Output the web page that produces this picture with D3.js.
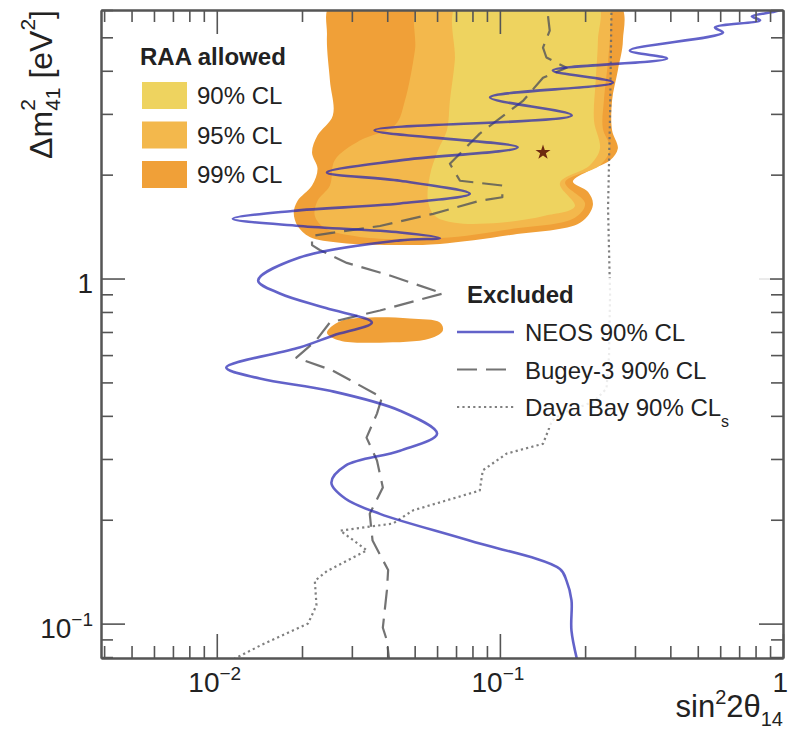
<!DOCTYPE html>
<html>
<head>
<meta charset="utf-8">
<script src="https://cdn.jsdelivr.net/npm/d3@7"></script>
<style>
  html, body { margin: 0; padding: 0; background: #fff; }
  svg { display: block; }
  text { font-family: "Liberation Sans", Arial, Helvetica, sans-serif; fill: #222; }
</style>
</head>
<body>
<svg id="chart" width="789" height="729"></svg>
<script>
// ---- data (sin^2 2theta_14, Delta m^2_41 [eV^2]) ----

// RAA allowed contours
const raa99 = [[0.0255,6.3],[0.0245,5.06],[0.0251,3.75],[0.0257,2.97],[0.0227,2.60],[0.0217,2.32],[0.0227,2.08],[0.0217,1.86],[0.0193,1.68],[0.0187,1.55],[0.0193,1.42],[0.0213,1.32],[0.0272,1.27],[0.0443,1.25],[0.0614,1.26],[0.111,1.34],[0.192,1.45],[0.213,1.63],[0.205,1.78],[0.181,1.91],[0.208,2.06],[0.245,2.20],[0.261,2.38],[0.249,2.69],[0.249,3.28],[0.261,4.01],[0.272,4.90],[0.262,6.3]];
const raa99Island = [[0.0245,0.697],[0.0272,0.751],[0.0347,0.771],[0.0481,0.766],[0.0614,0.746],[0.0629,0.707],[0.0566,0.670],[0.0377,0.652],[0.0272,0.661]];
const raa95 = [[0.0522,6.3],[0.0501,4.58],[0.0462,3.28],[0.0426,2.78],[0.0320,2.51],[0.0261,2.20],[0.0251,1.86],[0.0227,1.68],[0.0222,1.52],[0.0241,1.40],[0.0320,1.32],[0.0614,1.31],[0.1085,1.39],[0.184,1.50],[0.200,1.65],[0.170,1.90],[0.226,2.13],[0.245,2.38],[0.231,2.72],[0.233,3.28],[0.241,4.28],[0.245,5.23],[0.239,6.3]];
const raa90 = [[0.0711,6.3],[0.0693,4.28],[0.0666,3.28],[0.0650,2.69],[0.0604,2.35],[0.0566,1.99],[0.0557,1.68],[0.0589,1.52],[0.0693,1.45],[0.100,1.45],[0.1442,1.52],[0.184,1.62],[0.163,1.89],[0.208,2.13],[0.2256,2.38],[0.215,2.87],[0.218,3.75],[0.222,4.90],[0.220,6.3]];
const bestFit = [0.142, 2.32];

// Exclusion curves
const neos = [[0.19,0.075],[0.179,0.0954],[0.179,0.117],[0.172,0.133],[0.163,0.144],[0.078,0.174],[0.0377,0.208],[0.0285,0.230],[0.0254,0.256],[0.0285,0.287],[0.0444,0.317],[0.060,0.355],[0.0444,0.414],[0.0251,0.473],[0.0142,0.513],[0.0108,0.552],[0.0196,0.631],[0.0258,0.684],[0.0353,0.746],[0.0243,0.821],[0.0167,0.905],[0.0140,0.987],[0.0196,1.15],[0.0444,1.29],[0.0614,1.31],[0.0444,1.36],[0.0196,1.42],[0.0114,1.49],[0.0185,1.57],[0.0444,1.65],[0.0783,1.76],[0.0444,1.92],[0.0245,2.03],[0.0444,2.20],[0.1156,2.40],[0.0361,2.69],[0.1794,2.97],[0.0923,3.35],[0.2508,3.70],[0.1539,4.01],[0.3894,4.34],[0.2877,4.58],[0.614,5.16],[0.575,5.34],[0.830,5.60],[0.776,5.75],[0.938,5.94],[1.03,6.1]];
const bugey3 = [[0.0409,0.075],[0.0399,0.0893],[0.0386,0.0973],[0.0399,0.125],[0.0403,0.143],[0.0355,0.174],[0.0347,0.208],[0.0386,0.248],[0.0368,0.297],[0.0338,0.346],[0.0368,0.406],[0.0383,0.452],[0.0257,0.541],[0.0191,0.590],[0.0224,0.661],[0.0251,0.746],[0.0377,0.808],[0.0629,0.905],[0.0409,1.02],[0.0288,1.11],[0.0231,1.21],[0.0217,1.25],[0.0217,1.33],[0.0377,1.42],[0.0581,1.54],[0.0849,1.68],[0.102,1.72],[0.102,1.86],[0.0723,1.92],[0.0666,2.15],[0.0849,2.63],[0.121,3.28],[0.142,3.82],[0.172,4.08],[0.146,4.37],[0.142,4.67],[0.150,5.23],[0.146,6.3]];
const dayaBay = [[0.0102,0.075],[0.0142,0.0863],[0.0210,0.100],[0.0225,0.113],[0.0222,0.133],[0.0245,0.142],[0.0339,0.163],[0.0273,0.186],[0.0419,0.195],[0.0494,0.213],[0.0849,0.243],[0.0870,0.278],[0.1057,0.311],[0.142,0.332],[0.153,0.388],[0.165,0.406],[0.215,0.44],[0.238,0.48],[0.243,0.60],[0.245,0.9],[0.241,1.6],[0.245,3.0],[0.248,6.3]];

// Axis labels
const xTickLabels = [[0.01,"10","\u22122"],[0.1,"10","\u22121"],[1,"1",""]];
const yTickLabels = [[0.1,"10","\u22121"],[1,"1",""]];
const allowedLegend = [["90% CL","cl90"],["95% CL","cl95"],["99% CL","cl99"]];
const excludedLegend = [["NEOS 90% CL","neos"],["Bugey-3 90% CL","bugey"],["Daya Bay 90% CL","daya"]];

// ---- styles ----
const colors = { cl90: "#eed35f", cl95: "#f3b84c", cl99: "#f0a038", star: "#6e2a10", axis: "#555" };
const lineStyle = {
  neos:  { stroke: "#2626b4", width: 2.6, dash: null, opacity: 0.72 },
  bugey: { stroke: "#5a5a5a", width: 2.2, dash: "20,9", opacity: 0.85 },
  daya:  { stroke: "#6a6a6a", width: 2.2, dash: "2.2,3.2", opacity: 0.85 }
};

const svg = d3.select("#chart");
const frame = { left: 101, right: 783, top: 10, bottom: 658 };
const x = d3.scaleLog().domain([0.0039, 1]).range([frame.left, frame.right]);
const y = d3.scaleLog().domain([0.0795, 6]).range([frame.bottom, frame.top]);

svg.append("defs").append("clipPath").attr("id", "frameClip")
  .append("rect").attr("x", frame.left).attr("y", frame.top)
  .attr("width", frame.right - frame.left).attr("height", frame.bottom - frame.top);

const plot = svg.append("g").attr("clip-path", "url(#frameClip)");

const closed = d3.line().x(d => x(d[0])).y(d => y(d[1])).curve(d3.curveCatmullRomClosed.alpha(0.5));
const smooth = d3.line().x(d => x(d[0])).y(d => y(d[1])).curve(d3.curveCatmullRom.alpha(0.5));
const straight = d3.line().x(d => x(d[0])).y(d => y(d[1]));

// allowed regions, outermost first
plot.append("path").datum(raa99).attr("d", closed).attr("fill", colors.cl99);
plot.append("path").datum(raa99Island).attr("d", closed).attr("fill", colors.cl99);
plot.append("path").datum(raa95).attr("d", closed).attr("fill", colors.cl95);
plot.append("path").datum(raa90).attr("d", closed).attr("fill", colors.cl90);

// best fit point
plot.append("path")
  .attr("transform", `translate(${x(bestFit[0])},${y(bestFit[1])})`)
  .attr("d", d3.symbol(d3.symbolStar, 70)())
  .attr("fill", colors.star);

function styleLine(sel, s) {
  sel.attr("fill", "none").attr("stroke", s.stroke).attr("stroke-width", s.width)
    .attr("stroke-opacity", s.opacity).attr("stroke-linejoin", "round")
    .attr("stroke-dasharray", s.dash);
}
styleLine(plot.append("path").datum(dayaBay).attr("d", straight), lineStyle.daya);
styleLine(plot.append("path").datum(bugey3).attr("d", straight), lineStyle.bugey);
styleLine(plot.append("path").datum(neos).attr("d", smooth), lineStyle.neos);

// ---- axes: ticks on all four sides, pointing inward ----
const isMajor = v => Math.abs(Math.log10(v) - Math.round(Math.log10(v))) < 1e-9;
function drawAxis(maker, scale, transform) {
  const all = scale.ticks();
  const parts = [[all.filter(v => !isMajor(v)), -12], [all.filter(isMajor), -24]];
  parts.forEach(([vals, len]) => {
    const g = svg.append("g").attr("transform", transform)
      .call(maker(scale).tickValues(vals).tickSizeInner(len).tickSizeOuter(0).tickFormat(() => ""));
    g.select(".domain").attr("stroke", colors.axis).attr("stroke-width", 2);
    g.selectAll(".tick line").attr("stroke", colors.axis).attr("stroke-width", 1.6);
  });
}
drawAxis(d3.axisBottom, x, `translate(0,${frame.bottom})`);
drawAxis(d3.axisTop, x, `translate(0,${frame.top})`);
drawAxis(d3.axisLeft, y, `translate(${frame.left},0)`);
drawAxis(d3.axisRight, y, `translate(${frame.right},0)`);

function powerLabel(sel, base, exp) {
  sel.append("tspan").text(base);
  if (exp) sel.append("tspan").attr("font-size", 19).attr("dy", -12).text(exp);
}
xTickLabels.forEach(([v, b, e]) => {
  const last = !e;
  const t = svg.append("text").attr("x", last ? 788 : x(v) - 2).attr("y", 692)
    .attr("text-anchor", last ? "end" : "middle").attr("font-size", 28);
  powerLabel(t, b, e);
});
yTickLabels.forEach(([v, b, e]) => {
  const t = svg.append("text").attr("x", 93).attr("y", y(v) + 14)
    .attr("text-anchor", "end").attr("font-size", 28);
  powerLabel(t, b, e);
});

// axis titles
const xt = svg.append("text").attr("x", 783).attr("y", 717).attr("text-anchor", "end").attr("font-size", 31);
xt.append("tspan").text("sin");
xt.append("tspan").attr("font-size", 20).attr("dy", -13).text("2");
xt.append("tspan").attr("dy", 13).text("2\u03b8");
xt.append("tspan").attr("font-size", 20).attr("dy", 9).text("14");

const yt = svg.append("text").attr("transform", "translate(52,10) rotate(-90)")
  .attr("text-anchor", "end").attr("font-size", 32);
yt.append("tspan").text("\u0394m");
const sup2 = yt.append("tspan").attr("font-size", 21).attr("dy", -17).text("2");
const w2 = sup2.node().getComputedTextLength();
yt.append("tspan").attr("font-size", 21).attr("dx", -w2).attr("dy", 25).text("41");
yt.append("tspan").attr("dy", -8).text(" [eV");
yt.append("tspan").attr("font-size", 21).attr("dy", -17).text("2");
yt.append("tspan").attr("dy", 17).text("]");

// ---- legend: allowed regions ----
svg.append("text").attr("x", 140).attr("y", 65).attr("font-size", 24).attr("font-weight", "bold").text("RAA allowed");
allowedLegend.forEach(([label, key], i) => {
  const top = 82 + i * 39.5;
  svg.append("rect").attr("x", 142).attr("y", top).attr("width", 45).attr("height", 27).attr("fill", colors[key]);
  svg.append("text").attr("x", 197).attr("y", top + 22).attr("font-size", 24).attr("fill", "#333").text(label);
});

// ---- legend: exclusion curves ----
svg.append("rect").attr("x", 450).attr("y", 278).attr("width", 320).attr("height", 150)
  .attr("fill", "#fff").attr("fill-opacity", 0.85);
svg.append("text").attr("x", 467).attr("y", 303).attr("font-size", 24).attr("font-weight", "bold").text("Excluded");
excludedLegend.forEach(([label, key], i) => {
  const cy = 332 + i * 37.5;
  styleLine(svg.append("line").attr("x1", 457).attr("x2", 514).attr("y1", cy).attr("y2", cy), lineStyle[key]);
  const t = svg.append("text").attr("x", 525).attr("y", cy + 9).attr("font-size", 24).attr("fill", "#333").text(label);
  if (key === "daya") t.append("tspan").attr("font-size", 16).attr("dy", 11).text("s");
});
</script>
</body>
</html>
